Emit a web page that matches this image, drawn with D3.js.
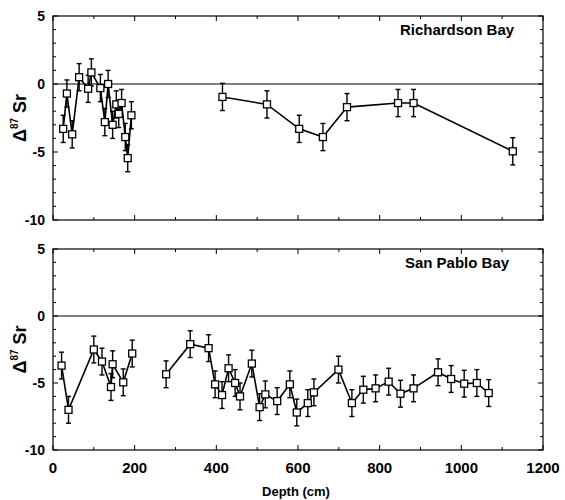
<!DOCTYPE html>
<html>
<head>
<meta charset="utf-8">
<script src="https://cdn.jsdelivr.net/npm/d3@7"></script>
<style>
  body { margin: 0; background: #fff; }
  text { font-family: "Liberation Sans", Arial, sans-serif; font-weight: bold; fill: #000; }
</style>
</head>
<body>
<div id="chart"></div>
<script>
// ---- data (depth in cm, delta 87Sr, error) ----
var richDepth = [25, 34, 47, 64, 86, 94, 116, 127, 135, 146, 155, 161, 168, 177, 183, 192,
                 415, 524, 603, 661, 720, 845, 883, 1126];
var richVal   = [-3.3, -0.7, -3.7, 0.5, -0.35, 0.85, -0.3, -2.8, 0.0, -3.0, -1.5, -2.2, -1.4, -3.9, -5.45, -2.3,
                 -0.95, -1.5, -3.3, -3.9, -1.7, -1.4, -1.4, -4.95];
var richErr   = [1, 1, 1, 1, 1, 1, 1, 1, 1, 1, 1, 1, 1, 1, 1, 1,
                 1, 1, 1, 1, 1, 1, 1, 1];
// gap between the two cores in the top panel
var richBreak = 16;

var sanDepth = [21, 38, 100, 120, 142, 146, 172, 194,
                277, 336, 381, 397, 414, 430, 446, 458, 487, 506, 520, 549, 580, 597, 624, 639,
                699, 732, 760, 790, 822, 851, 883, 943, 975, 1007, 1038, 1067];
var sanVal   = [-3.7, -7.0, -2.5, -3.4, -5.3, -3.6, -4.95, -2.8,
                -4.35, -2.1, -2.4, -5.1, -5.9, -3.9, -5.0, -6.0, -3.55, -6.8, -5.85, -6.35, -5.1, -7.2, -6.5, -5.7,
                -4.0, -6.5, -5.5, -5.4, -4.9, -5.8, -5.4, -4.2, -4.7, -5.05, -5.0, -5.75];
var sanErr   = sanVal.map(function() { return 1; });
var sanBreak = 8;

var xTicks = [0, 200, 400, 600, 800, 1000, 1200];
var yTicks = [-10, -5, 0, 5];

// ---- layout ----
var W = 565, H = 500;
var left = 53, right = 543;

var svg = d3.select("#chart").append("svg")
  .attr("width", W).attr("height", H);

var x = d3.scaleLinear().domain([0, 1200]).range([left, right]);

function panel(top, bottom, depth, vals, errs, brk, label, showX) {
  var y = d3.scaleLinear().domain([-10, 5]).range([bottom, top]);
  var g = svg.append("g");

  // frame
  g.append("rect")
    .attr("x", left).attr("y", top)
    .attr("width", right - left).attr("height", bottom - top)
    .attr("fill", "none").attr("stroke", "#000").attr("stroke-width", 1.2);

  // zero line
  g.append("line")
    .attr("x1", left).attr("x2", right)
    .attr("y1", y(0)).attr("y2", y(0))
    .attr("stroke", "#000").attr("stroke-width", 1.2);

  // y ticks, inward on both sides
  d3.range(-10, 6).forEach(function(v) {
    var len = (v % 5 === 0) ? 5 : 3;
    g.append("line").attr("x1", left).attr("x2", left + len)
      .attr("y1", y(v)).attr("y2", y(v)).attr("stroke", "#000");
    g.append("line").attr("x1", right).attr("x2", right - len)
      .attr("y1", y(v)).attr("y2", y(v)).attr("stroke", "#000");
  });
  // x ticks, inward top and bottom
  d3.range(0, 1201, 100).forEach(function(v) {
    var len = (v % 200 === 0) ? 5 : 3;
    g.append("line").attr("x1", x(v)).attr("x2", x(v))
      .attr("y1", bottom).attr("y2", bottom - len).attr("stroke", "#000");
    g.append("line").attr("x1", x(v)).attr("x2", x(v))
      .attr("y1", top).attr("y2", top + len).attr("stroke", "#000");
  });

  // y tick labels
  g.selectAll(".yl").data(yTicks).enter().append("text")
    .attr("x", left - 8).attr("y", function(d) { return y(d); })
    .attr("dy", "0.35em").attr("text-anchor", "end")
    .attr("font-size", 14).text(function(d) { return d; });

  // y label
  var yl = g.append("text")
    .attr("transform", "translate(26," + ((top + bottom) / 2) + ") rotate(-90)")
    .attr("text-anchor", "middle").attr("font-size", 18);
  yl.append("tspan").text("\u0394");
  yl.append("tspan").attr("font-size", 10).attr("dy", -8).text("87");
  yl.append("tspan").attr("dy", 8).text(" Sr");

  // panel title
  g.append("text")
    .attr("x", 457).attr("y", top + 19)
    .attr("text-anchor", "middle").attr("font-size", 15)
    .text(label);

  var pts = depth.map(function(d, i) { return {d: d, v: vals[i], e: errs[i]}; });
  var segs = [pts.slice(0, brk), pts.slice(brk)];

  var line = d3.line().x(function(p) { return x(p.d); }).y(function(p) { return y(p.v); });
  g.selectAll(".seg").data(segs).enter().append("path")
    .attr("d", line).attr("fill", "none").attr("stroke", "#000").attr("stroke-width", 1.6);

  // error bars
  var eb = g.selectAll(".eb").data(pts).enter().append("g");
  eb.append("line")
    .attr("x1", function(p) { return x(p.d); }).attr("x2", function(p) { return x(p.d); })
    .attr("y1", function(p) { return y(p.v - p.e); }).attr("y2", function(p) { return y(p.v + p.e); })
    .attr("stroke", "#000").attr("stroke-width", 1.4);
  [1, -1].forEach(function(s) {
    eb.append("line")
      .attr("x1", function(p) { return x(p.d) - 2.5; }).attr("x2", function(p) { return x(p.d) + 2.5; })
      .attr("y1", function(p) { return y(p.v + s * p.e); }).attr("y2", function(p) { return y(p.v + s * p.e); })
      .attr("stroke", "#000").attr("stroke-width", 1.4);
  });

  // open squares
  g.selectAll(".pt").data(pts).enter().append("rect")
    .attr("x", function(p) { return x(p.d) - 3.5; })
    .attr("y", function(p) { return y(p.v) - 3.5; })
    .attr("width", 7).attr("height", 7)
    .attr("fill", "#fff").attr("stroke", "#000").attr("stroke-width", 1.3);

  if (showX) {
    g.selectAll(".xl").data(xTicks).enter().append("text")
      .attr("x", function(d) { return x(d); }).attr("y", bottom + 23)
      .attr("text-anchor", "middle").attr("font-size", 15)
      .text(function(d) { return d; });
  }
}

panel(16, 220, richDepth, richVal, richErr, richBreak, "Richardson Bay", false);
panel(249, 450, sanDepth, sanVal, sanErr, sanBreak, "San Pablo Bay", true);

svg.append("text")
  .attr("x", 296).attr("y", 496)
  .attr("text-anchor", "middle").attr("font-size", 13)
  .text("Depth (cm)");
</script>
</body>
</html>
